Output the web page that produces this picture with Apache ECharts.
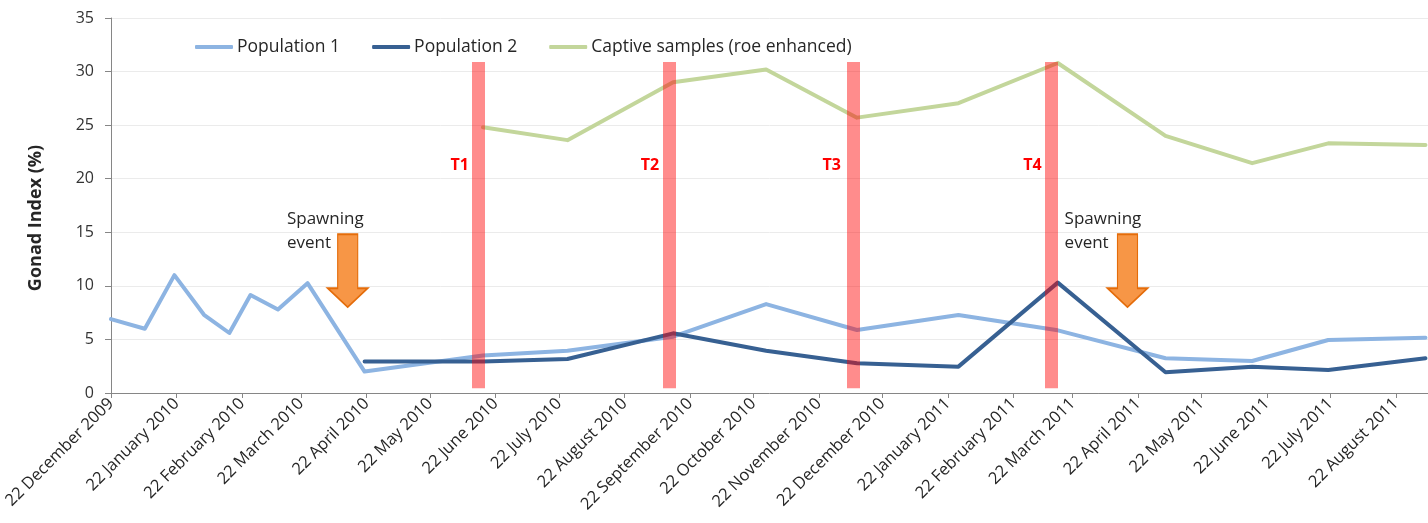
<!DOCTYPE html>
<html>
<head>
<meta charset="utf-8">
<script src="https://cdn.jsdelivr.net/npm/echarts@6/dist/echarts.min.js"></script>
<style>html,body{margin:0;padding:0;background:#fff;}#c{width:1428px;height:523px;}</style>
</head>
<body>
<div id="c"></div>
<script>
// ---- data ----
const tickDates = ['2009-12-22','2010-01-22','2010-02-22','2010-03-22','2010-04-22','2010-05-22','2010-06-22','2010-07-22','2010-08-22','2010-09-22','2010-10-22','2010-11-22','2010-12-22','2011-01-22','2011-02-22','2011-03-22','2011-04-22','2011-05-22','2011-06-22','2011-07-22','2011-08-22'];
const monthNames = ['January','February','March','April','May','June','July','August','September','October','November','December'];

const pop1Dates = ['2009-12-22','2010-01-07','2010-01-21','2010-02-04','2010-02-16','2010-02-26','2010-03-11','2010-03-25','2010-04-21','2010-06-16','2010-07-26','2010-09-14','2010-10-28','2010-12-10','2011-01-27','2011-03-15','2011-05-05','2011-06-15','2011-07-21','2011-09-05'];
const pop1Values = [6.9, 6.0, 11.0, 7.3, 5.6, 9.15, 7.8, 10.25, 2.0, 3.5, 3.95, 5.26, 8.3, 5.88, 7.28, 5.85, 3.24, 2.99, 4.95, 5.16];

const pop2Dates = ['2010-04-21','2010-06-16','2010-07-26','2010-09-14','2010-10-28','2010-12-10','2011-01-27','2011-03-15','2011-05-05','2011-06-15','2011-07-21','2011-09-05'];
const pop2Values = [2.95, 2.95, 3.17, 5.57, 3.95, 2.77, 2.46, 10.3, 1.93, 2.46, 2.15, 3.24];

const captiveDates = ['2010-06-16','2010-07-26','2010-09-14','2010-10-28','2010-12-10','2011-01-27','2011-03-15','2011-05-05','2011-06-15','2011-07-21','2011-09-05'];
const captiveValues = [24.8, 23.6, 29.0, 30.2, 25.7, 27.05, 30.8, 24.0, 21.45, 23.3, 23.15];

// annotations
const periodNames = ['T1','T2','T3','T4'];
const periodDates = ['2010-06-14','2010-09-12','2010-12-08','2011-03-12'];
const periodLabelDates = ['2010-06-05','2010-09-03','2010-11-28','2011-03-03'];
const spawnArrowDates = ['2010-04-13','2011-04-17'];
const spawnTextDates = ['2010-03-15','2011-03-18'];

const axisStart = '2009-12-22';
const axisSpanDays = 623.2;

// ---- helpers ----
function ts(s){ const p = s.split('-').map(Number); return Date.UTC(p[0], p[1]-1, p[2]); }
function pairs(d, v){ return d.map((x,i)=>[ts(x), v[i]]); }
function fmt(t){ const d = new Date(t); return d.getUTCDate() + ' ' + monthNames[d.getUTCMonth()] + ' ' + d.getUTCFullYear(); }

const xMin = ts(axisStart);
const xMax = xMin + axisSpanDays * 86400000;
const ticks = tickDates.map(ts);

const FONT = 'Open Sans';
const chart = echarts.init(document.getElementById('c'), null, {renderer:'canvas'});

const barLines = periodDates.map(d => [{coord:[ts(d), 0.45]}, {coord:[ts(d), 30.9]}]);
const tLabels = periodNames.map((n,i)=>({
  coord:[ts(periodLabelDates[i]), 21.2], symbol:'rect', symbolSize:1,
  itemStyle:{color:'rgba(0,0,0,0)'},
  label:{show:true, position:'inside', formatter:n, color:'#FF0000', fontWeight:'bold', fontSize:16, fontFamily:FONT}
}));
const arrows = spawnArrowDates.map(d=>({
  coord:[ts(d), 11.42], symbol:'path://M10,0 L30,0 L30,54 L40,54 L20,73 L0,54 L10,54 Z',
  symbolSize:[40,73], symbolKeepAspect:false,
  itemStyle:{color:'#F79646', borderColor:'#E46C0A', borderWidth:1.5},
  label:{show:false}
}));
const spawnTexts = spawnTextDates.map(d=>({
  coord:[ts(d), 15.15], symbol:'rect', symbolSize:1,
  itemStyle:{color:'rgba(0,0,0,0)'},
  label:{show:true, position:'right', distance:0, align:'left', formatter:'Spawning\nevent', color:'#262626', fontSize:17, lineHeight:24, fontFamily:FONT}
}));

const lineCommon = {type:'line', symbol:'none', showSymbol:false, smooth:false, animation:false, emphasis:{disabled:true}};

chart.setOption({
  animation:false,
  backgroundColor:'#fff',
  textStyle:{fontFamily:FONT},
  grid:{left:111, right:0, top:18, bottom:130, containLabel:false},
  legend:{
    left:190, top:33, itemWidth:38, itemHeight:4, itemGap:32, icon:'roundRect',
    data:['Population 1','Population 2','Captive samples (roe enhanced)'],
    textStyle:{fontSize:17.5, color:'#262626', fontFamily:FONT, padding:[0,0,0,-1]}
  },
  xAxis:{
    type:'value', min:xMin, max:xMax,
    splitLine:{show:false},
    axisLine:{show:true, lineStyle:{color:'#868686', width:1}},
    axisTick:{show:true, length:5, lineStyle:{color:'#868686'}, customValues:ticks},
    axisLabel:{customValues:ticks, rotate:45, margin:8, fontSize:16.5, color:'#262626', fontFamily:FONT, formatter:(v)=>fmt(v)}
  },
  yAxis:{
    type:'value', min:0, max:35, interval:5,
    axisLine:{show:true, lineStyle:{color:'#868686', width:1}},
    axisTick:{show:true, length:6, lineStyle:{color:'#868686'}},
    axisLabel:{margin:17, fontSize:16, color:'#333', fontFamily:FONT},
    splitLine:{show:true, lineStyle:{color:'#EBEBEB', width:1}}
  },
  graphic:[{
    type:'text', x:36, y:218, rotation:Math.PI/2,
    style:{text:'Gonad Index (%)', fontSize:18, fontWeight:'bold', fontFamily:FONT, fill:'#262626', align:'center', verticalAlign:'middle'}
  }],
  series:[
    Object.assign({}, lineCommon, {name:'Population 1', data:pairs(pop1Dates,pop1Values), color:'#8DB4E2', lineStyle:{color:'#8DB4E2', width:4, cap:'round', join:'round'}, z:2}),
    Object.assign({}, lineCommon, {name:'Population 2', data:pairs(pop2Dates,pop2Values), color:'#376092', lineStyle:{color:'#376092', width:4, cap:'round', join:'round'}, z:3}),
    Object.assign({}, lineCommon, {name:'Captive samples (roe enhanced)', data:pairs(captiveDates,captiveValues), color:'#C3D69B', lineStyle:{color:'#C3D69B', width:4, cap:'round', join:'round'}, z:3}),
    {
      type:'line', name:'annotations', data:[], z:10, silent:true, animation:false,
      markLine:{silent:true, symbol:['none','none'], animation:false, label:{show:false},
        lineStyle:{color:'rgba(255,0,0,0.45)', width:13, type:'solid', cap:'butt'},
        emphasis:{disabled:true}, data:barLines},
      markPoint:{silent:true, animation:false, data: tLabels.concat(arrows, spawnTexts)}
    }
  ]
});
</script>
</body>
</html>
